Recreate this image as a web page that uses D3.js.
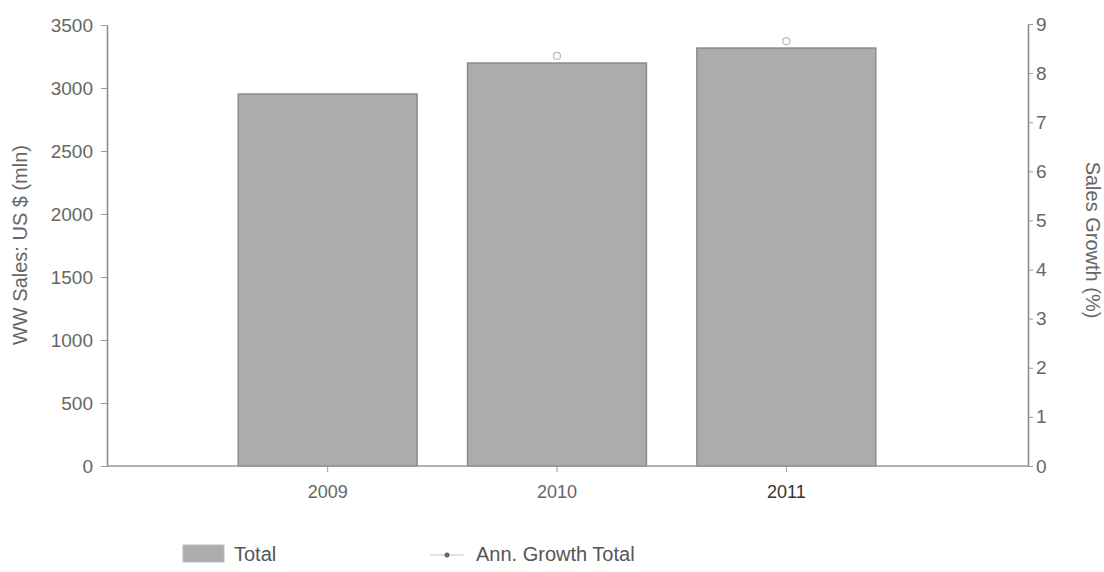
<!DOCTYPE html>
<html>
<head>
<meta charset="utf-8">
<script src="https://cdn.jsdelivr.net/npm/d3@7"></script>
<style>
body { margin: 0; background: #fff; }
text { font-family: "Liberation Sans", Arial, sans-serif; }
</style>
</head>
<body>
<svg id="chart" width="1104" height="572"></svg>
<script>
// data
var years = ["2009", "2010", "2011"];
var sales = [2952, 3198, 3317];
var growth = [null, 8.35, 8.65];
var salesTicks = [0, 500, 1000, 1500, 2000, 2500, 3000, 3500];
var growthTicks = [0, 1, 2, 3, 4, 5, 6, 7, 8, 9];

var svg = d3.select("#chart");
var plotLeft = 107, plotRight = 1028, plotTop = 25, plotBottom = 466;

var x = d3.scaleBand().domain(years).range([213, 901]).paddingInner(0.22).paddingOuter(0.11);
var y = d3.scaleLinear().domain([0, 3500]).range([plotBottom, plotTop]);
var y2 = d3.scaleLinear().domain([0, 9]).range([plotBottom, 24]);

// bars
svg.selectAll("rect.bar").data(years).enter().append("rect")
	.attr("class", "bar")
	.attr("x", function(d) { return x(d); })
	.attr("width", x.bandwidth())
	.attr("y", function(d, i) { return y(sales[i]); })
	.attr("height", function(d, i) { return plotBottom - y(sales[i]); })
	.style("fill", "#acacac")
	.style("stroke", "#8a8a8a")
	.style("stroke-width", 1.5);

// left axis
var yAxis = svg.append("g")
	.attr("transform", "translate(" + plotLeft + ",0)")
	.call(d3.axisLeft(y).tickValues(salesTicks).tickSize(6).tickSizeOuter(0).tickPadding(8));
// right axis
var y2Axis = svg.append("g")
	.attr("transform", "translate(" + plotRight + ",0)")
	.call(d3.axisRight(y2).tickValues(growthTicks).tickSize(5).tickSizeOuter(0).tickPadding(3));
// x axis
var xAxis = svg.append("g")
	.attr("transform", "translate(0," + plotBottom + ")")
	.call(d3.axisBottom(x).tickSize(6).tickSizeOuter(0).tickPadding(13));
xAxis.select(".domain").remove();
svg.append("line")
	.attr("x1", plotLeft).attr("x2", plotRight)
	.attr("y1", plotBottom).attr("y2", plotBottom)
	.style("stroke", "#999").style("stroke-width", 1.5);

[yAxis, y2Axis, xAxis].forEach(function(g) {
	g.selectAll("path.domain").style("stroke", "#888").style("stroke-width", 1.5);
	g.selectAll(".tick line").style("stroke", "#999");
	g.selectAll(".tick text").style("font-size", "19px").style("fill", "#666")
		.style("font-family", "'Liberation Sans', Arial, sans-serif");
});
yAxis.selectAll(".tick text").text(function(d) { return d; });
xAxis.selectAll(".tick text").style("font-size", "18px")
	.style("fill", function(d) { return d == "2011" ? "#333" : "#666"; });

// growth markers
svg.selectAll("circle.growth").data(years.filter(function(d, i) { return growth[i] != null; }))
	.enter().append("circle")
	.attr("class", "growth")
	.attr("cx", function(d) { return x(d) + x.bandwidth() / 2; })
	.attr("cy", function(d) { return y2(growth[years.indexOf(d)]); })
	.attr("r", 3.5)
	.style("fill", "none")
	.style("stroke", "#bbb")
	.style("stroke-width", 1.2);

// axis titles
svg.append("text")
	.attr("transform", "translate(27,245) rotate(-90)")
	.attr("text-anchor", "middle")
	.style("font-size", "20px").style("fill", "#666")
	.text("WW Sales: US $ (mln)");
svg.append("text")
	.attr("transform", "translate(1086,240) rotate(90)")
	.attr("text-anchor", "middle")
	.style("font-size", "20px").style("fill", "#666")
	.text("Sales Growth (%)");

// legend
var legend = svg.append("g");
legend.append("rect")
	.attr("x", 183).attr("y", 545).attr("width", 41).attr("height", 17)
	.style("fill", "#acacac").style("stroke", "#bbb");
legend.append("text").attr("x", 234).attr("y", 561)
	.style("font-size", "20px").style("fill", "#555").text("Total");
legend.append("line")
	.attr("x1", 430).attr("x2", 464).attr("y1", 555).attr("y2", 555)
	.style("stroke", "#e2e2e2").style("stroke-width", 2);
legend.append("circle")
	.attr("cx", 447).attr("cy", 555).attr("r", 2.5)
	.style("fill", "#666");
legend.append("text").attr("x", 476).attr("y", 561)
	.style("font-size", "20px").style("fill", "#555").text("Ann. Growth Total");
</script>
</body>
</html>
